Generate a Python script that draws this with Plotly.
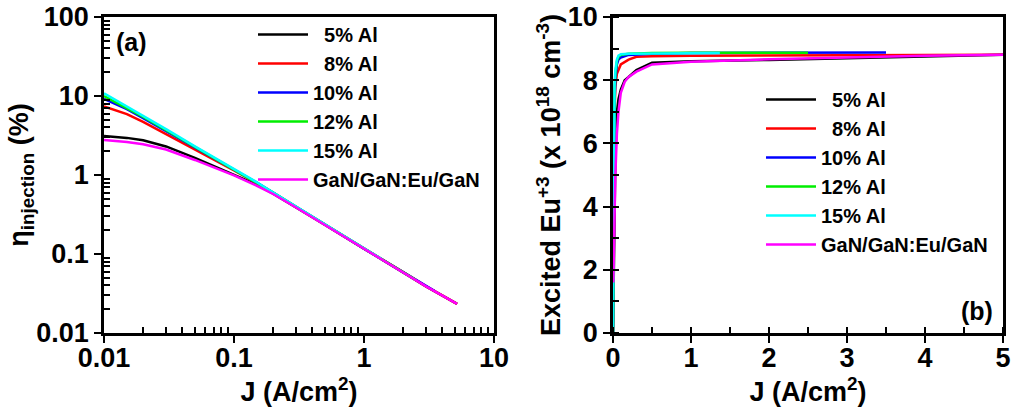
import plotly.graph_objects as go

# ---------------- data ----------------
names = ["\u00a0\u00a05% Al", "\u00a0\u00a08% Al", "10% Al", "12% Al", "15% Al", "GaN/GaN:Eu/GaN"]
colors = ["#000000", "#ff0000", "#0000ff", "#00ee00", "#00ffff", "#ff00ff"]

# panel (a): injection efficiency (%) vs J (A/cm2)
ja_5 = [0.01, 0.015, 0.02, 0.03, 0.05, 0.07, 0.1, 0.15, 0.2, 0.3, 0.5, 1, 2, 3, 5.2]
eta_5 = [3.12, 2.95, 2.75, 2.3, 1.65, 1.3, 1.02, 0.75, 0.58, 0.39, 0.235, 0.117, 0.059, 0.039, 0.0234]
ja_8 = [0.01, 0.015, 0.02, 0.03, 0.05, 0.07, 0.1, 0.15, 0.2, 0.3, 0.5, 1, 2, 3, 5.2]
eta_8 = [7.4, 5.9, 4.7, 3.3, 2.1, 1.56, 1.14, 0.79, 0.59, 0.39, 0.235, 0.117, 0.059, 0.039, 0.0234]
ja_10 = [0.01, 0.015, 0.02, 0.03, 0.05, 0.07, 0.1, 0.15, 0.2, 0.3, 0.5, 1, 2, 3.5]
eta_10 = [9.2, 6.8, 5.25, 3.6, 2.23, 1.62, 1.17, 0.8, 0.6, 0.395, 0.236, 0.117, 0.059, 0.034]
ja_12 = [0.01, 0.015, 0.02, 0.03, 0.05, 0.07, 0.1, 0.15, 0.2, 0.3, 0.5, 1, 2, 2.5]
eta_12 = [10.0, 7.1, 5.45, 3.7, 2.27, 1.64, 1.18, 0.8, 0.6, 0.395, 0.236, 0.117, 0.059, 0.047]
ja_15 = [0.01, 0.015, 0.02, 0.03, 0.05, 0.07, 0.1, 0.15, 0.2, 0.3, 0.5, 1, 1.37]
eta_15 = [10.8, 7.4, 5.6, 3.8, 2.3, 1.67, 1.2, 0.81, 0.6, 0.397, 0.237, 0.118, 0.086]
ja_gan = [0.01, 0.015, 0.02, 0.03, 0.05, 0.07, 0.1, 0.15, 0.2, 0.3, 0.5, 1, 2, 3, 5.2]
eta_gan = [2.77, 2.62, 2.45, 2.1, 1.55, 1.24, 0.99, 0.73, 0.575, 0.388, 0.234, 0.117, 0.059, 0.039, 0.0234]

# panel (b): excited Eu3+ (x1e18 cm-3) vs J (A/cm2)
jb_5 = [0, 0.005, 0.01, 0.02, 0.03, 0.05, 0.07, 0.1, 0.15, 0.2, 0.3, 0.5, 1, 2, 3, 4, 5.13]
eu_5 = [0, 1.2, 2.4, 4.2, 5.5, 7.0, 7.4, 7.7, 8.0, 8.1, 8.32, 8.55, 8.6, 8.64, 8.7, 8.75, 8.81]
jb_8 = [0, 0.005, 0.01, 0.02, 0.03, 0.05, 0.1, 0.2, 0.3, 0.5, 1, 2, 3, 4, 5.13]
eu_8 = [0, 2.5, 4.8, 7.0, 7.8, 8.2, 8.5, 8.65, 8.74, 8.76, 8.77, 8.78, 8.79, 8.8, 8.81]
jb_10 = [0, 0.005, 0.01, 0.02, 0.03, 0.05, 0.07, 0.1, 0.2, 0.5, 1, 2, 3, 3.5]
eu_10 = [0, 3.0, 5.4, 7.3, 8.0, 8.5, 8.65, 8.72, 8.8, 8.84, 8.86, 8.87, 8.87, 8.88]
jb_12 = [0, 0.005, 0.01, 0.02, 0.03, 0.05, 0.07, 0.1, 0.2, 0.5, 1, 2, 2.5]
eu_12 = [0, 3.2, 5.7, 7.6, 8.2, 8.6, 8.74, 8.8, 8.84, 8.86, 8.87, 8.87, 8.87]
jb_15 = [0, 0.005, 0.01, 0.02, 0.03, 0.05, 0.07, 0.1, 0.2, 0.5, 1.0, 1.37]
eu_15 = [0, 3.5, 6.0, 7.8, 8.3, 8.65, 8.78, 8.82, 8.84, 8.85, 8.86, 8.86]
jb_gan = [0.004, 0.01, 0.02, 0.03, 0.05, 0.07, 0.1, 0.15, 0.2, 0.3, 0.5, 1, 2, 3, 4, 5.13]
eu_gan = [1.6, 2.8, 4.0, 5.0, 6.3, 7.0, 7.6, 7.95, 8.1, 8.27, 8.5, 8.58, 8.66, 8.72, 8.77, 8.81]

left_xticks = [0.01, 0.1, 1, 10]
left_xticklabels = ["0.01", "0.1", "1", "10"]
left_yticks = [0.01, 0.1, 1, 10, 100]
left_yticklabels = ["0.01", "0.1", "1", "10", "100"]

series_a = [(ja_5, eta_5), (ja_8, eta_8), (ja_10, eta_10), (ja_12, eta_12), (ja_15, eta_15), (ja_gan, eta_gan)]
series_b = [(jb_5, eu_5), (jb_8, eu_8), (jb_10, eu_10), (jb_12, eu_12), (jb_15, eu_15), (jb_gan, eu_gan)]

FONT = "Liberation Sans"
W, H = 1015, 411


def px(X):
    return X / W


def py(Y):
    return 1 - Y / H


fig = go.Figure()

for i, (x, y) in enumerate(series_a):
    fig.add_trace(go.Scatter(x=x, y=y, mode="lines", name=names[i], legend="legend",
                             line=dict(color=colors[i], width=2.5), xaxis="x", yaxis="y"))
for i, (x, y) in enumerate(series_b):
    fig.add_trace(go.Scatter(x=x, y=y, mode="lines", name=names[i], legend="legend2",
                             line=dict(color=colors[i], width=2.5), xaxis="x2", yaxis="y2"))

# empty traces that attach the top-side overlay axes (panel top borders)
fig.add_trace(go.Scatter(x=[], y=[], xaxis="x3", yaxis="y", showlegend=False, hoverinfo="skip"))
fig.add_trace(go.Scatter(x=[], y=[], xaxis="x4", yaxis="y2", showlegend=False, hoverinfo="skip"))

tickfont = dict(family=FONT, size=27, color="black", weight="bold")
titlefont = dict(family=FONT, size=27, color="black", weight="bold")
common = dict(showline=True, linewidth=2.5, linecolor="black", mirror=True, showgrid=False,
              zeroline=False, ticks="outside", ticklen=7, tickwidth=2, tickcolor="black",
              tickfont=tickfont, automargin=False)

dom_a = [px(104), px(494)]
dom_b = [px(613), px(1003)]
dom_y = [py(333), py(17)]

minor_log = dict(ticks="inside", ticklen=6, tickwidth=1.5, tickcolor="black", showgrid=False)
legfont = dict(family=FONT, size=20, color="black", weight="bold")
topaxis = dict(side="top", showline=True, linewidth=2.5, linecolor="black", ticks="",
               showticklabels=False, showgrid=False, zeroline=False, automargin=False)

fig.update_layout(
    width=W, height=H, margin=dict(l=0, r=0, t=0, b=0, autoexpand=False),
    paper_bgcolor="white", plot_bgcolor="white", showlegend=True,
    xaxis=dict(type="log", range=[-2, 1], domain=dom_a, anchor="y",
               tickvals=left_xticks, ticktext=left_xticklabels, ticklabelstandoff=-8,
               minor=dict(minor_log, tickvals=[k * 10 ** e for e in (-2, -1, 0) for k in range(2, 10)]),
               title=dict(text="J (A/cm<sup>2</sup>)", font=titlefont, standoff=0), **common),
    yaxis=dict(type="log", range=[-2, 2], domain=dom_y, anchor="x",
               tickvals=left_yticks, ticktext=left_yticklabels,
               minor=dict(minor_log, tickvals=[k * 10 ** e for e in (-2, -1, 0, 1) for k in range(2, 10)]),
               title=dict(text="\u03b7<sub>injection</sub> (%)", font=titlefont, standoff=0), **common),
    xaxis2=dict(range=[0, 5], domain=dom_b, anchor="y2", dtick=1, tick0=0, ticklabelstandoff=-8,
                minor=dict(ticks="inside", ticklen=6, tickwidth=1.5, tickcolor="black", dtick=0.5),
                title=dict(text="J (A/cm<sup>2</sup>)", font=titlefont, standoff=0), **common),
    yaxis2=dict(range=[0, 10], domain=dom_y, anchor="x2", dtick=2, tick0=0,
                minor=dict(ticks="inside", ticklen=6, tickwidth=1.5, tickcolor="black", dtick=1),
                title=dict(text="Excited Eu<sup>+3</sup> (x 10<sup>18</sup> cm<sup>-3</sup>)",
                           font=titlefont, standoff=0), **common),
    xaxis3=dict(type="log", range=[-2, 1], overlaying="x", anchor="y", **topaxis),
    xaxis4=dict(range=[0, 5], overlaying="x2", anchor="y2", **topaxis),
    legend=dict(x=px(253), y=py(15), xanchor="left", yanchor="top",
                bgcolor="rgba(0,0,0,0)", itemwidth=50, font=legfont),
    legend2=dict(x=px(761), y=py(80), xanchor="left", yanchor="top",
                 bgcolor="rgba(0,0,0,0)", itemwidth=50, font=legfont),
    annotations=[
        dict(text="(a)", x=px(114), y=py(42), xref="paper", yref="paper",
             xanchor="left", yanchor="middle", showarrow=False,
             font=dict(family=FONT, size=25, color="black", weight="bold")),
        dict(text="(b)", x=px(995), y=py(311), xref="paper", yref="paper",
             xanchor="right", yanchor="middle", showarrow=False,
             font=dict(family=FONT, size=25, color="black", weight="bold")),
    ],
)

fig.write_html(
    "out.html",
    config={"displayModeBar": False},
    post_script="document.body.style.margin='0';document.body.style.overflow='hidden';",
)
